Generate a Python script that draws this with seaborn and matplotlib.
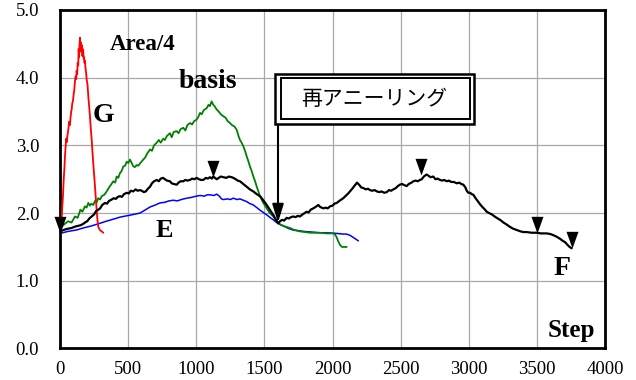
import matplotlib
matplotlib.use("Agg")
import matplotlib.pyplot as plt
from matplotlib.path import Path
from matplotlib.patches import Rectangle
import seaborn as sns
import pandas as pd

# ---------------- data ----------------
g_x = [0, 8, 12, 17, 22, 25, 28, 32, 37, 42, 46, 50, 55, 61, 67, 73, 78, 82, 86, 90, 95, 100, 105, 110, 115,
       119, 122, 126, 130, 134, 137, 140, 143, 147, 150, 153, 157, 161, 165, 168, 171, 174, 177, 180, 183,
       187, 190, 193, 196, 202, 208, 214, 220, 226, 233, 238, 244, 250, 257, 263, 269, 275, 281, 290, 298,
       306, 318]
g_y = [1.70, 1.80, 1.90, 2.10, 2.25, 2.40, 2.52, 2.64, 2.85, 3.00, 3.10, 3.05, 3.15, 3.23, 3.35, 3.30, 3.42,
       3.50, 3.53, 3.62, 3.65, 3.75, 3.82, 3.95, 4.02, 3.98, 4.10, 4.05, 4.22, 4.18, 4.42, 4.30, 4.48, 4.59,
       4.45, 4.52, 4.38, 4.48, 4.32, 4.42, 4.40, 4.28, 4.30, 4.22, 4.25, 4.15, 4.10, 4.05, 3.97, 3.90, 3.72,
       3.58, 3.43, 3.25, 3.08, 2.92, 2.74, 2.58, 2.39, 2.22, 2.05, 1.90, 1.80, 1.76, 1.74, 1.73, 1.71]

basis_x = [0, 12, 35, 60, 85, 110, 130, 150, 165, 183, 195, 208, 220, 230, 245, 257, 270, 280, 295, 306, 325,
           343, 360, 375, 391, 405, 416, 428, 440, 452, 465, 478, 490, 502, 514, 526, 538, 550, 563, 575, 590,
           611, 625, 640, 661, 675, 690, 710, 725, 740, 758, 770, 785, 807, 820, 835, 857, 870, 885, 905, 920,
           935, 954, 970, 985, 1003, 1015, 1028, 1040, 1055, 1077, 1090, 1100, 1113, 1125, 1138, 1150, 1165,
           1180, 1199, 1215, 1230, 1248, 1262, 1280, 1297, 1310, 1321, 1333, 1345, 1358, 1370, 1382, 1394,
           1407, 1419, 1432, 1444, 1456, 1468, 1492, 1517, 1540, 1566, 1585, 1602, 1640, 1688, 1720, 1761,
           1800, 1835, 1900, 1960, 2006, 2020, 2031, 2043, 2055, 2070, 2080, 2104]
basis_y = [1.70, 1.80, 1.84, 1.88, 1.86, 1.95, 1.93, 2.05, 2.02, 2.10, 2.08, 2.15, 2.11, 2.14, 2.12, 2.18,
           2.16, 2.22, 2.20, 2.25, 2.27, 2.32, 2.38, 2.42, 2.47, 2.45, 2.54, 2.52, 2.59, 2.62, 2.69, 2.70,
           2.76, 2.74, 2.79, 2.74, 2.69, 2.68, 2.71, 2.70, 2.74, 2.79, 2.82, 2.88, 2.94, 2.92, 3.00, 3.04,
           3.08, 3.04, 3.10, 3.08, 3.14, 3.18, 3.12, 3.20, 3.21, 3.18, 3.24, 3.26, 3.22, 3.30, 3.33, 3.31,
           3.36, 3.38, 3.42, 3.48, 3.46, 3.52, 3.55, 3.60, 3.58, 3.65, 3.60, 3.57, 3.53, 3.50, 3.46, 3.43,
           3.41, 3.36, 3.33, 3.30, 3.28, 3.23, 3.14, 3.08, 3.04, 2.99, 2.92, 2.84, 2.77, 2.69, 2.62, 2.54,
           2.47, 2.39, 2.32, 2.25, 2.15, 2.07, 2.00, 1.95, 1.90, 1.85, 1.81, 1.78, 1.75, 1.73, 1.72, 1.71,
           1.71, 1.70, 1.70, 1.68, 1.64, 1.58, 1.53, 1.50, 1.50, 1.50]

f_x = [0, 12, 40, 60, 85, 110, 130, 150, 170, 183, 200, 215, 233, 250, 265, 281, 295, 310, 330, 345, 360,
       379, 395, 410, 425, 440, 455, 470, 490, 505, 520, 538, 555, 570, 587, 600, 615, 630, 645, 661, 675,
       690, 710, 725, 740, 758, 770, 785, 807, 820, 835, 857, 870, 885, 905, 920, 935, 954, 970, 985, 1003,
       1020, 1035, 1052, 1070, 1085, 1101, 1115, 1125, 1138, 1150, 1165, 1180, 1199, 1220, 1240, 1260, 1272,
       1290, 1305, 1321, 1345, 1370, 1394, 1419, 1444, 1468, 1492, 1517, 1540, 1566, 1585, 1602, 1615, 1630,
       1645, 1664, 1680, 1695, 1712, 1730, 1745, 1761, 1780, 1795, 1810, 1825, 1840, 1859, 1875, 1896, 1910,
       1932, 1950, 1965, 1982, 2000, 2015, 2031, 2050, 2065, 2079, 2100, 2115, 2128, 2145, 2160, 2180, 2195,
       2210, 2226, 2245, 2260, 2275, 2290, 2310, 2325, 2345, 2360, 2380, 2398, 2415, 2430, 2446, 2465, 2480,
       2495, 2510, 2530, 2545, 2560, 2580, 2593, 2610, 2625, 2642, 2655, 2670, 2691, 2705, 2720, 2740, 2755,
       2770, 2789, 2805, 2820, 2838, 2855, 2870, 2890, 2912, 2930, 2945, 2960, 2975, 2985, 2997, 3010, 3022,
       3034, 3050, 3065, 3083, 3100, 3115, 3132, 3150, 3170, 3190, 3205, 3230, 3255, 3279, 3300, 3325, 3352,
       3380, 3400, 3425, 3460, 3499, 3530, 3572, 3600, 3625, 3646, 3670, 3690, 3707, 3725, 3740, 3755]
f_y = [1.70, 1.74, 1.76, 1.77, 1.78, 1.80, 1.81, 1.82, 1.84, 1.86, 1.88, 1.92, 1.95, 1.98, 2.03, 2.05, 2.07,
       2.12, 2.15, 2.14, 2.18, 2.20, 2.22, 2.21, 2.24, 2.25, 2.24, 2.28, 2.30, 2.29, 2.33, 2.32, 2.35, 2.33,
       2.34, 2.33, 2.31, 2.32, 2.36, 2.39, 2.44, 2.47, 2.49, 2.47, 2.51, 2.52, 2.50, 2.48, 2.47, 2.44, 2.43,
       2.42, 2.45, 2.47, 2.47, 2.49, 2.48, 2.49, 2.51, 2.50, 2.52, 2.50, 2.49, 2.49, 2.52, 2.51, 2.53, 2.51,
       2.54, 2.52, 2.50, 2.52, 2.54, 2.53, 2.52, 2.54, 2.53, 2.52, 2.50, 2.48, 2.47, 2.43, 2.39, 2.35, 2.32,
       2.28, 2.25, 2.19, 2.12, 2.05, 1.97, 1.90, 1.85, 1.88, 1.90, 1.89, 1.93, 1.92, 1.94, 1.95, 1.94, 1.96,
       1.95, 1.98, 2.00, 2.02, 2.01, 2.05, 2.07, 2.09, 2.12, 2.09, 2.07, 2.08, 2.07, 2.10, 2.11, 2.14, 2.15,
       2.18, 2.20, 2.22, 2.26, 2.29, 2.32, 2.36, 2.40, 2.45, 2.42, 2.38, 2.37, 2.35, 2.36, 2.34, 2.33, 2.34,
       2.32, 2.31, 2.32, 2.30, 2.31, 2.34, 2.33, 2.35, 2.37, 2.40, 2.42, 2.43, 2.41, 2.40, 2.43, 2.45, 2.47,
       2.48, 2.47, 2.49, 2.50, 2.54, 2.57, 2.55, 2.53, 2.54, 2.50, 2.51, 2.49, 2.48, 2.49, 2.47, 2.48, 2.46,
       2.46, 2.44, 2.45, 2.43, 2.42, 2.38, 2.33, 2.30, 2.30, 2.28, 2.27, 2.22, 2.18, 2.13, 2.09, 2.06, 2.02,
       2.00, 1.98, 1.95, 1.93, 1.90, 1.86, 1.83, 1.80, 1.77, 1.75, 1.73, 1.72, 1.72, 1.71, 1.71, 1.70, 1.70,
       1.69, 1.67, 1.65, 1.62, 1.59, 1.57, 1.53, 1.50, 1.48]

e_x = [0, 60, 120, 171, 230, 294, 340, 391, 440, 490, 540, 587, 620, 661, 700, 734, 770, 800, 832, 860, 890,
       930, 960, 1000, 1028, 1060, 1080, 1101, 1130, 1150, 1170, 1185, 1199, 1230, 1250, 1272, 1300, 1320,
       1345, 1370, 1394, 1419, 1445, 1470, 1492, 1520, 1545, 1566, 1590, 1615, 1650, 1680, 1712, 1750, 1786,
       1850, 1900, 1957, 2030, 2080, 2104, 2130, 2153, 2175, 2190]
e_y = [1.70, 1.73, 1.75, 1.78, 1.81, 1.85, 1.88, 1.91, 1.94, 1.96, 1.98, 2.00, 2.04, 2.09, 2.12, 2.15, 2.16,
       2.18, 2.19, 2.18, 2.20, 2.22, 2.23, 2.25, 2.26, 2.25, 2.27, 2.27, 2.26, 2.28, 2.25, 2.21, 2.20, 2.21,
       2.20, 2.22, 2.20, 2.21, 2.19, 2.17, 2.14, 2.12, 2.08, 2.04, 2.01, 1.97, 1.93, 1.90, 1.86, 1.83, 1.80,
       1.77, 1.75, 1.74, 1.73, 1.72, 1.71, 1.71, 1.70, 1.69, 1.69, 1.67, 1.64, 1.61, 1.59]

# triangle markers (tip positions)
mark_x = [0, 1125, 2650, 3500, 3755]
mark_y = [1.71, 2.54, 2.57, 1.71, 1.48]

# re-annealing arrow
anneal_step = 1600
anneal_from = 3.32
anneal_to = 1.86
anneal_label = "再アニーリング"

x_ticks = [0, 500, 1000, 1500, 2000, 2500, 3000, 3500, 4000]
y_ticks = [0.0, 1.0, 2.0, 3.0, 4.0, 5.0]

# ---------------- style ----------------
sns.set_style("white")
plt.rcParams["font.family"] = ["Liberation Serif", "Noto Sans CJK JP", "DejaVu Sans"]
plt.rcParams["text.color"] = "black"
plt.rcParams["axes.labelcolor"] = "black"
plt.rcParams["xtick.color"] = "black"
plt.rcParams["ytick.color"] = "black"

fig = plt.figure(figsize=(6.36, 3.80), dpi=100)
ax = fig.add_axes([0.0943, 0.0829, 0.8570, 0.8908])

series = [
    (e_x, e_y, "#0000ff", 1.1, 2),
    (basis_x, basis_y, "#008000", 1.3, 3),
    (f_x, f_y, "black", 1.6, 4),
    (g_x, g_y, "#ff0000", 1.3, 3),
]
for xs, ys, col, lw, z in series:
    df = pd.DataFrame({"step": xs, "val": ys})
    sns.lineplot(data=df, x="step", y="val", sort=False, estimator=None,
                 color=col, lw=lw, ax=ax, zorder=z)

# downward triangles with the tip at the data point
tri = Path([(-0.36, 1.0), (0.36, 1.0), (0.0, 0.0), (-0.36, 1.0)],
           [Path.MOVETO, Path.LINETO, Path.LINETO, Path.CLOSEPOLY])
sns.scatterplot(x=mark_x, y=mark_y, marker=tri, s=24 ** 2, color="black",
                linewidth=0, ax=ax, zorder=6, clip_on=False)

# arrow
ax.annotate("", xy=(anneal_step, anneal_to), xytext=(anneal_step, anneal_from),
            arrowprops=dict(arrowstyle="-|>,head_length=0.55,head_width=0.17",
                            color="black", lw=1.5, mutation_scale=20,
                            shrinkA=0, shrinkB=0), zorder=7)

# double-bordered box
ax.add_patch(Rectangle((1578, 3.32), 3039 - 1578, 4.06 - 3.32, facecolor="white",
                       edgecolor="black", lw=1.8, zorder=8))
ax.add_patch(Rectangle((1622, 3.385), 3010 - 1622, 4.00 - 3.385, facecolor="none",
                       edgecolor="black", lw=1.4, zorder=9))
ax.text(2308, 3.69, anneal_label, ha="center", va="center", fontsize=15,
        family=["Noto Sans CJK JP", "DejaVu Sans"], zorder=10)

# labels
bold = dict(fontweight="bold", family=["Liberation Serif", "DejaVu Serif"], zorder=10,
            color="black")
ax.text(609, 4.416, "Area/4", ha="center", va="baseline", fontsize=16.5, **bold)
ax.text(1083, 3.85, "basis", ha="center", va="baseline", fontsize=20, **bold)
ax.text(316, 3.35, "G", ha="center", va="baseline", fontsize=20, **bold)
ax.text(763, 1.65, "E", ha="center", va="baseline", fontsize=19, **bold)
ax.text(3681, 1.09, "F", ha="center", va="baseline", fontsize=20, **bold)
ax.text(3750, 0.175, "Step", ha="center", va="baseline", fontsize=18, **bold)

# axes
ax.set_xlim(0, 4000)
ax.set_ylim(0, 5)
ax.set_xticks(x_ticks)
ax.set_yticks(y_ticks)
ax.set_xticklabels([str(v) for v in x_ticks])
ax.set_yticklabels([f"{v:.1f}" for v in y_ticks])
ax.set_xlabel("")
ax.set_ylabel("")
ax.grid(True, color="#a8a8a8", lw=0.9, zorder=0)
ax.set_axisbelow(True)
ax.tick_params(axis="both", direction="in", length=4, width=0.8, color="black",
               labelsize=13.5, labelcolor="black")
ax.tick_params(axis="x", pad=9)
ax.tick_params(axis="y", pad=15)
for sp in ax.spines.values():
    sp.set_visible(True)
    sp.set_color("black")
    sp.set_linewidth(2.0)

fig.savefig("out.png", dpi=100)
